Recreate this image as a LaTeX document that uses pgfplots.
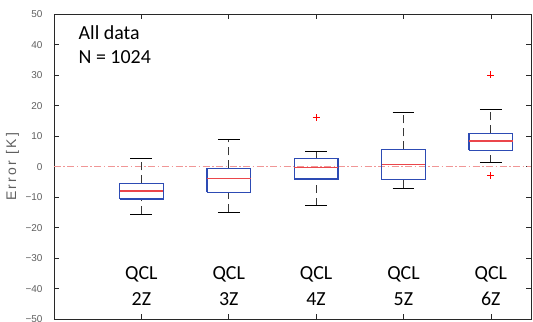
\documentclass[border=0pt]{standalone}
\usepackage{fontspec}
\setmainfont{Liberation Sans}
\newfontfamily\calib{Carlito}
\newfontfamily\lblfont[LetterSpace=16]{Liberation Sans}
\usepackage{pgfplots}
\pgfplotsset{compat=1.18}
\definecolor{boxblue}{RGB}{45,75,180}
\definecolor{medred}{RGB}{235,70,75}
\definecolor{zeroline}{RGB}{240,150,150}
\definecolor{axgray}{RGB}{40,40,40}
\definecolor{lblgray}{RGB}{95,95,95}
\definecolor{whisk}{RGB}{55,55,55}
\pgfplotsset{
  boxsty/.style={color=boxblue, line width=1.4bp, solid, mark=none},
  medsty/.style={color=medred, line width=1.4bp, solid, mark=none},
  whisksty/.style={color=whisk, line width=1bp, dash pattern=on 8bp off 5bp, mark=none},
  capsty/.style={color=black, line width=1bp, solid, mark=none},
  outsty/.style={color=red, only marks, mark=+, mark size=3.5bp, mark options={solid, line width=0.9bp}},
}
\begin{document}
\begin{tikzpicture}
\begin{axis}[
  name=ax,
  scale only axis, width=477bp, height=305bp,
  xmin=0, xmax=5.46, ymin=-50, ymax=50,
  xtick={1,2,3,4,5}, xticklabels={},
  ytick={-50,-40,-30,-20,-10,0,10,20,30,40,50},
  yticklabels={−50,−40,−30,−20,−10,0,10,20,30,40,50},
  tick align=inside, major tick length=5bp,
  tick style={axgray, line width=0.6bp},
  axis line style={axgray, line width=0.7bp},
  yticklabel style={font=\fontsize{10}{12}\selectfont, text=lblgray, xshift=-8bp},
  ylabel={Error [K]},
  every axis y label/.style={at={(axis description cs:-0.087,0.5)}, rotate=90, anchor=center,
    font=\lblfont\fontsize{14}{16}\selectfont, text=lblgray},
  clip=false,
]
\addplot[color=zeroline, line width=0.8bp, dash pattern=on 7bp off 2.5bp on 1.5bp off 2.5bp, mark=none]
  coordinates {(0,0) (5.46,0)};
% whiskers
\addplot[whisksty] coordinates {(1,-15.6) (1,-10.6)};
\addplot[whisksty] coordinates {(1,-5.4) (1,2.6)};
\addplot[whisksty] coordinates {(2,-14.9) (2,-8.4)};
\addplot[whisksty] coordinates {(2,-0.5) (2,9.0)};
\addplot[whisksty] coordinates {(3,-12.7) (3,-4.0)};
\addplot[whisksty] coordinates {(3,2.8) (3,5.0)};
\addplot[whisksty] coordinates {(4,-7.0) (4,-4.2)};
\addplot[whisksty] coordinates {(4,5.7) (4,17.9)};
\addplot[whisksty] coordinates {(5,1.3) (5,5.4)};
\addplot[whisksty] coordinates {(5,11.0) (5,18.7)};
% caps
\addplot[capsty] coordinates {(0.875,-15.6) (1.125,-15.6)};
\addplot[capsty] coordinates {(0.875,2.6) (1.125,2.6)};
\addplot[capsty] coordinates {(1.875,-14.9) (2.125,-14.9)};
\addplot[capsty] coordinates {(1.875,9.0) (2.125,9.0)};
\addplot[capsty] coordinates {(2.875,-12.7) (3.125,-12.7)};
\addplot[capsty] coordinates {(2.875,5.0) (3.125,5.0)};
\addplot[capsty] coordinates {(3.875,-7.0) (4.125,-7.0)};
\addplot[capsty] coordinates {(3.875,17.9) (4.125,17.9)};
\addplot[capsty] coordinates {(4.875,1.3) (5.125,1.3)};
\addplot[capsty] coordinates {(4.875,18.7) (5.125,18.7)};
% boxes
\addplot[boxsty] coordinates {(0.75,-10.6) (1.25,-10.6) (1.25,-5.4) (0.75,-5.4) (0.75,-10.6)};
\addplot[boxsty] coordinates {(1.75,-8.4) (2.25,-8.4) (2.25,-0.5) (1.75,-0.5) (1.75,-8.4)};
\addplot[boxsty] coordinates {(2.75,-4.0) (3.25,-4.0) (3.25,2.8) (2.75,2.8) (2.75,-4.0)};
\addplot[boxsty] coordinates {(3.75,-4.2) (4.25,-4.2) (4.25,5.7) (3.75,5.7) (3.75,-4.2)};
\addplot[boxsty] coordinates {(4.75,5.4) (5.25,5.4) (5.25,11.0) (4.75,11.0) (4.75,5.4)};
% medians
\addplot[medsty] coordinates {(0.75,-8.0) (1.25,-8.0)};
\addplot[medsty] coordinates {(1.75,-3.8) (2.25,-3.8)};
\addplot[medsty] coordinates {(2.75,-0.3) (3.25,-0.3)};
\addplot[medsty] coordinates {(3.75,0.7) (4.25,0.7)};
\addplot[medsty] coordinates {(4.75,8.5) (5.25,8.5)};
% outliers
\addplot[outsty] coordinates {(3,16.1) (5,30.1) (5,-3.0)};
\node[anchor=base west, inner sep=0, font=\calib\fontsize{20}{24}\selectfont] at (axis cs:0.28,41.6) {All data};
\node[anchor=base west, inner sep=0, font=\calib\fontsize{20}{24}\selectfont] at (axis cs:0.28,33.9) {N = 1024};
\node[anchor=base, inner sep=0, font=\calib\fontsize{20}{24}\selectfont] at (axis cs:1,-36.9) {QCL};
\node[anchor=base, inner sep=0, font=\calib\fontsize{20}{24}\selectfont] at (axis cs:1,-45.5) {2Z};
\node[anchor=base, inner sep=0, font=\calib\fontsize{20}{24}\selectfont] at (axis cs:2,-36.9) {QCL};
\node[anchor=base, inner sep=0, font=\calib\fontsize{20}{24}\selectfont] at (axis cs:2,-45.5) {3Z};
\node[anchor=base, inner sep=0, font=\calib\fontsize{20}{24}\selectfont] at (axis cs:3,-36.9) {QCL};
\node[anchor=base, inner sep=0, font=\calib\fontsize{20}{24}\selectfont] at (axis cs:3,-45.5) {4Z};
\node[anchor=base, inner sep=0, font=\calib\fontsize{20}{24}\selectfont] at (axis cs:4,-36.9) {QCL};
\node[anchor=base, inner sep=0, font=\calib\fontsize{20}{24}\selectfont] at (axis cs:4,-45.5) {5Z};
\node[anchor=base, inner sep=0, font=\calib\fontsize{20}{24}\selectfont] at (axis cs:5,-36.9) {QCL};
\node[anchor=base, inner sep=0, font=\calib\fontsize{20}{24}\selectfont] at (axis cs:5,-45.5) {6Z};
\end{axis}
\pgfresetboundingbox
\useasboundingbox ([xshift=-54bp,yshift=-2.7bp]ax.south west) rectangle ([xshift=2bp,yshift=14.3bp]ax.north east);
\end{tikzpicture}
\end{document}
